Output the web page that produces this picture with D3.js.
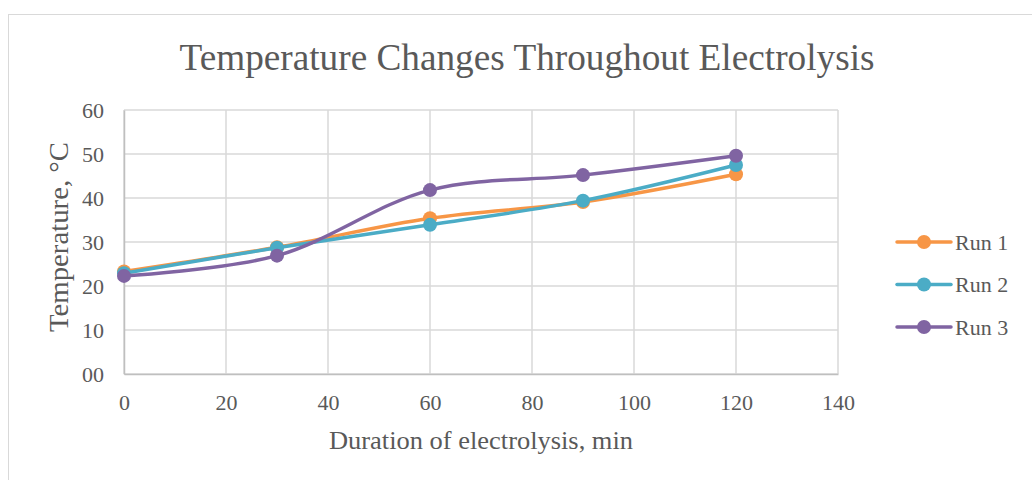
<!DOCTYPE html>
<html>
<head>
<meta charset="utf-8">
<script src="https://cdn.jsdelivr.net/npm/d3@7"></script>
<style>
  body { margin: 0; background: #fff; }
  text { font-family: "Liberation Serif", "Times New Roman", serif; fill: #595959; }
</style>
</head>
<body>
<div id="chart"></div>
<script>
// data
const minutes = [0, 30, 60, 90, 120];
const run1 = [23.3, 28.8, 35.4, 39.1, 45.4];
const run2 = [22.9, 28.7, 33.9, 39.4, 47.5];
const run3 = [22.3, 26.9, 41.8, 45.2, 49.6];
const seriesNames = ["Run 1", "Run 2", "Run 3"];
const seriesColors = ["#f79646", "#4bacc6", "#8064a2"];
const xTicks = [0, 20, 40, 60, 80, 100, 120, 140];
const yTicks = [0, 10, 20, 30, 40, 50, 60];

const width = 1032, height = 480;
const plot = {left: 124, right: 838, top: 110, bottom: 374};

let svg = d3.select("#chart").append("svg")
    .attr("width", width)
    .attr("height", height);

// chart frame
svg.append("rect")
    .attr("x", 8.5).attr("y", 14.5)
    .attr("width", 1040).attr("height", 480)
    .attr("fill", "#fff")
    .attr("stroke", "#d9d9d9");

// scales
let x = d3.scaleLinear().domain([0, 140]).range([plot.left, plot.right]);
let y = d3.scaleLinear().domain([0, 60]).range([plot.bottom, plot.top]);

// gridlines
svg.append("g").selectAll("line")
    .data(xTicks)
    .join("line")
    .attr("x1", d => x(d)).attr("x2", d => x(d))
    .attr("y1", plot.top).attr("y2", plot.bottom)
    .attr("stroke", "#d9d9d9").attr("stroke-width", 1.5);

svg.append("g").selectAll("line")
    .data(yTicks)
    .join("line")
    .attr("x1", plot.left).attr("x2", plot.right)
    .attr("y1", d => y(d)).attr("y2", d => y(d))
    .attr("stroke", "#d9d9d9").attr("stroke-width", 1.5);

// axes
let xAxis = svg.append("g")
    .attr("transform", `translate(0, ${plot.bottom})`)
    .call(d3.axisBottom(x).tickValues(xTicks).tickSize(0).tickPadding(20));
xAxis.select(".domain").attr("stroke", "#bfbfbf").attr("stroke-width", 1.5);
xAxis.selectAll("text").attr("font-size", 22).attr("fill", "#595959")
    .style("font-family", "Liberation Serif");

let yAxis = svg.append("g")
    .attr("transform", `translate(${plot.left}, 0)`)
    .call(d3.axisLeft(y).tickValues(yTicks).tickSize(0).tickPadding(20)
        .tickFormat(d3.format("02")));
yAxis.select(".domain").attr("stroke", "#bfbfbf").attr("stroke-width", 1.5);
yAxis.selectAll("text").attr("font-size", 22).attr("fill", "#595959")
    .style("font-family", "Liberation Serif");

// titles
svg.append("text")
    .attr("x", 527).attr("y", 70)
    .attr("text-anchor", "middle")
    .attr("font-size", 37)
    .attr("textLength", 695)
    .attr("lengthAdjust", "spacingAndGlyphs")
    .text("Temperature Changes Throughout Electrolysis");

svg.append("text")
    .attr("x", 481).attr("y", 449)
    .attr("text-anchor", "middle")
    .attr("font-size", 26)
    .attr("textLength", 304)
    .attr("lengthAdjust", "spacingAndGlyphs")
    .text("Duration of electrolysis, min");

svg.append("text")
    .attr("transform", "translate(68, 237) rotate(-90)")
    .attr("text-anchor", "middle")
    .attr("font-size", 28)
    .attr("textLength", 190)
    .attr("lengthAdjust", "spacingAndGlyphs")
    .text("Temperature, °C");

// series
let series = [run1, run2, run3].map((vals, i) => ({
    name: seriesNames[i],
    color: seriesColors[i],
    points: minutes.map((m, j) => ({x: m, y: vals[j]}))
}));

let line = d3.line()
    .x(d => x(d.x))
    .y(d => y(d.y))
    .curve(d3.curveCatmullRom.alpha(0.5));

let seriesG = svg.append("g").selectAll("g")
    .data(series)
    .join("g");

seriesG.append("path")
    .attr("d", d => line(d.points))
    .attr("fill", "none")
    .attr("stroke", d => d.color)
    .attr("stroke-width", 3.5)
    .attr("stroke-linecap", "round");

seriesG.selectAll("circle")
    .data(d => d.points.map(p => ({...p, color: d.color})))
    .join("circle")
    .attr("cx", d => x(d.x))
    .attr("cy", d => y(d.y))
    .attr("r", 7)
    .attr("fill", d => d.color);

// legend
let legend = svg.append("g").selectAll("g")
    .data(series)
    .join("g")
    .attr("transform", (d, i) => `translate(897, ${242 + i * 42.5})`);

legend.append("line")
    .attr("x1", 0).attr("x2", 54)
    .attr("stroke", d => d.color)
    .attr("stroke-width", 3.5)
    .attr("stroke-linecap", "round");

legend.append("circle")
    .attr("cx", 27).attr("r", 7)
    .attr("fill", d => d.color);

legend.append("text")
    .attr("x", 58).attr("y", 7.5)
    .attr("font-size", 22)
    .text(d => d.name);
</script>
</body>
</html>
